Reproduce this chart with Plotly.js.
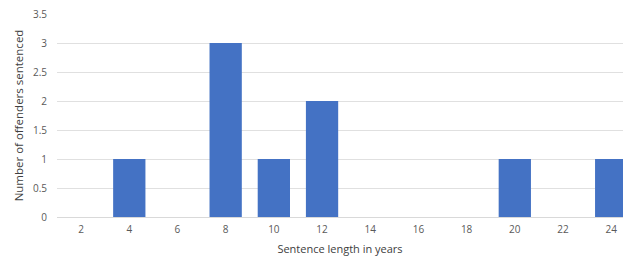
<!DOCTYPE html>
<html><head><meta charset="utf-8">
<script src="https://cdn.plot.ly/plotly-3.0.1.min.js"></script>
<style>html,body{margin:0;padding:0;background:#fff}</style>
</head><body><div id="chart" style="width:623px;height:259px"></div>
<script>
const sentenceYears = [2,4,6,8,10,12,14,16,18,20,22,24];
const offenders = [0,1,0,3,1,2,0,0,0,1,0,1];
const yTicks = [0,0.5,1,1.5,2,2.5,3,3.5];
const yTickLabels = ["0","0.5","1","1.5","2","2.5","3","3.5"];

Plotly.newPlot('chart', [{
  type: 'bar', x: sentenceYears, y: offenders,
  marker: {color: '#4472C4'}, hoverinfo: 'x+y'
}], {
  width: 623, height: 259,
  margin: {l: 57, r: 0, t: 14, b: 42},
  bargap: 0.33,
  paper_bgcolor: '#fff', plot_bgcolor: '#fff',
  font: {family: 'Open Sans, sans-serif', color: '#595959', size: 10},
  xaxis: {
    range: [1, 24.49], tickvals: sentenceYears, ticktext: sentenceYears.map(String),
    showgrid: false, zeroline: false, showline: true, linecolor: '#d9d9d9', linewidth: 1,
    ticks: '', ticklen: 0, ticklabelstandoff: 3, tickfont: {size: 10, color: '#595959'},
    title: {text: 'Sentence length in years', font: {size: 11, color: '#404040'}, standoff: 10}
  },
  yaxis: {
    range: [0, 3.5], tickvals: yTicks, ticktext: yTickLabels,
    showgrid: true, gridcolor: '#e0e0e0', gridwidth: 1, zeroline: false,
    ticks: '', ticklabelstandoff: 9, tickfont: {size: 10, color: '#595959'},
    title: {text: 'Number of offenders sentenced', font: {size: 11.5, color: '#404040'}, standoff: 6}
  },
  showlegend: false
}, {displayModeBar: false, staticPlot: true});
</script></body></html>
